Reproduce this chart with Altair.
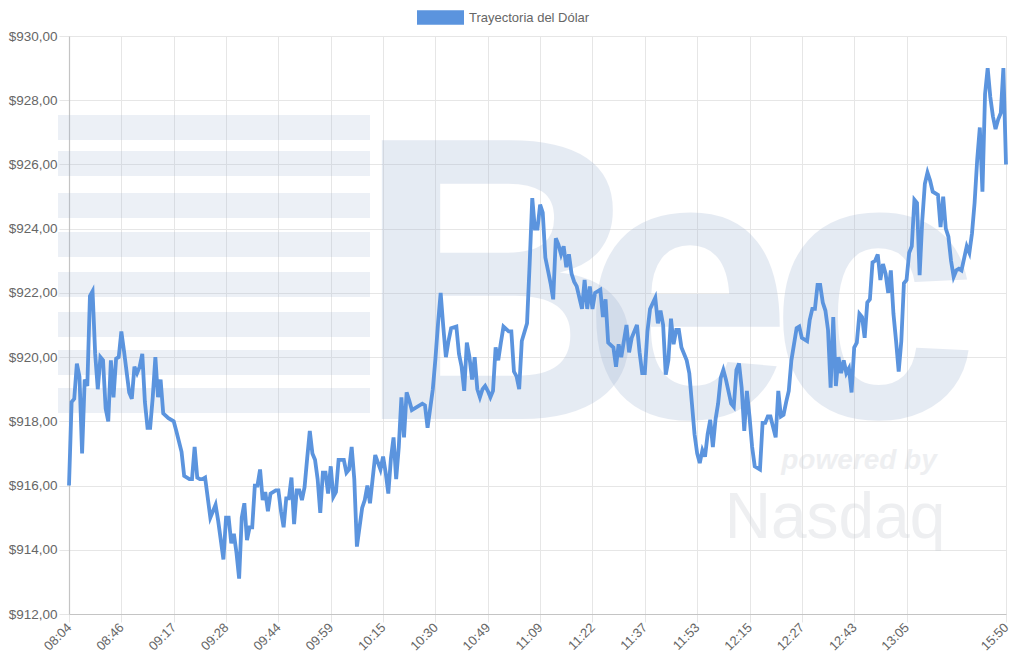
import altair as alt
import pandas as pd

# ---- data ----
series_name = "Trayectoria del Dólar"

idx = [0, 1, 2, 3, 4, 5, 6, 7, 8, 9, 10, 11, 12, 13, 14, 15, 16, 17, 18, 19, 20, 21, 23, 24, 25, 26, 27, 28, 29, 30,
       31, 32, 33, 34, 35, 36, 38, 40, 41, 43, 44, 46, 47, 48, 49, 50, 51, 52, 54, 55, 56, 57, 59, 60, 61, 62, 63, 64,
       65, 66, 67, 68, 69, 70, 71, 72, 73, 74, 75, 76, 77, 79, 80, 81, 82, 83, 84, 85, 86, 87, 88, 89, 90, 91, 92, 93,
       94, 95, 96, 97, 98, 99, 100, 101, 102, 103, 105, 106, 107, 108, 109, 110, 112, 113, 114, 115, 116, 117, 119,
       120, 121, 122, 123, 124, 125, 126, 127, 128, 129, 130, 131, 133, 135, 136, 137, 139, 140, 141, 142, 143, 144,
       145, 146, 148, 149, 150, 151, 152, 153, 154, 155, 156, 157, 158, 159, 160, 161, 162, 163, 164, 165, 166, 168,
       169, 170, 171, 172, 173, 175, 176, 177, 178, 179, 180, 181, 182, 183, 184, 185, 186, 187, 188, 189, 190, 191,
       192, 193, 194, 196, 197, 198, 199, 200, 201, 203, 204, 205, 206, 208, 209, 210, 211, 213, 214, 215, 217, 218,
       219, 220, 221, 222, 224, 225, 226, 227, 228, 229, 230, 231, 232, 233, 234, 236, 237, 238, 239, 240, 241, 242,
       243, 244, 245, 246, 247, 248, 249, 250, 251, 253, 254, 255, 256, 257, 258, 259, 260, 261, 262, 264, 265, 266,
       267, 268, 270, 271, 272, 273, 274, 275, 276, 278, 279, 280, 282, 283, 284, 285, 286, 287, 288, 289, 290, 291,
       292, 293, 294, 295, 296, 297, 298, 299, 300, 301, 302, 303, 304, 305, 306, 307, 308, 309, 310, 311, 312, 313,
       314, 315, 316, 317, 318, 319, 320, 321, 322, 323, 324, 325, 326, 327, 328, 329, 330, 332, 333, 334, 335, 336,
       337, 338, 339, 340, 341, 343, 344, 345, 346, 347, 348, 349, 350, 351, 352, 353, 354, 355, 356, 357, 358]

price = [916.0, 918.6, 918.7, 919.8, 919.4, 917.0, 919.3, 919.1, 921.9, 922.05, 920.1, 919.0, 920.0, 919.9, 918.4,
         918.0, 919.9, 918.75, 919.95, 920.0, 920.8, 920.2, 918.9, 918.7, 919.7, 919.5, 919.7, 920.1, 918.6, 917.8,
         917.8, 918.75, 920.0, 918.75, 919.3, 918.25, 918.1, 918.0, 917.7, 917.05, 916.3, 916.2, 916.2, 917.2, 916.25,
         916.2, 916.2, 916.25, 915.0, 915.2, 915.4, 914.9, 913.7, 915.0, 915.0, 914.2, 914.5, 913.9, 913.1, 915.0,
         915.45, 914.3, 914.7, 914.7, 916.0, 916.0, 916.5, 915.55, 915.8, 915.2, 915.75, 915.85, 915.85, 915.2, 914.7,
         915.6, 915.6, 916.25, 914.8, 915.85, 915.85, 915.55, 915.95, 916.85, 917.7, 917.0, 916.8, 916.2, 915.15,
         916.4, 916.4, 915.75, 916.6, 915.65, 915.8, 916.8, 916.8, 916.4, 916.5, 917.2, 916.2, 914.1, 915.3, 915.55,
         916.0, 915.45, 916.2, 916.95, 916.5, 916.9, 916.4, 915.75, 916.85, 917.5, 916.2, 917.2, 918.75, 917.5, 918.9,
         918.65, 918.35, 918.45, 918.55, 918.5, 917.8, 919.0, 919.95, 921.05, 922.0, 920.95, 920.0, 920.5, 920.9,
         920.95, 920.1, 919.7, 918.95, 920.45, 920.0, 919.3, 920.0, 919.0, 918.75, 919.0, 919.1, 918.95, 918.75,
         918.95, 920.3, 919.9, 920.45, 920.95, 920.8, 920.8, 919.55, 919.4, 919.0, 920.5, 921.05, 922.9, 924.95,
         924.0, 924.0, 924.75, 924.5, 923.1, 922.7, 922.3, 921.8, 923.7, 923.5, 923.2, 923.45, 922.8, 923.2, 922.6,
         922.35, 922.2, 921.5, 922.4, 921.5, 922.2, 921.5, 922.0, 922.1, 921.25, 921.8, 920.45, 920.3, 919.7, 920.4,
         920.0, 921.0, 920.15, 920.6, 921.0, 920.15, 919.5, 919.5, 920.8, 921.5, 921.85, 921.05, 921.45, 921.0,
         919.45, 919.9, 921.2, 920.4, 920.85, 920.85, 920.3, 919.9, 919.5, 918.55, 917.6, 917.0, 916.7, 917.1, 916.9,
         917.6, 918.05, 917.2, 918.05, 918.55, 919.35, 919.6, 919.3, 918.55, 918.45, 919.6, 919.8, 919.05, 917.7,
         918.95, 918.15, 917.2, 916.6, 916.5, 917.95, 917.95, 918.15, 918.15, 917.5, 918.95, 918.15, 918.2, 918.6,
         918.95, 919.9, 920.9, 920.95, 920.6, 920.5, 921.15, 921.5, 921.5, 922.25, 922.25, 921.7, 921.45, 920.85,
         919.05, 921.25, 919.1, 920.0, 919.5, 919.9, 919.5, 919.65, 918.9, 920.3, 920.45, 921.35, 921.25, 920.6,
         921.7, 921.8, 922.95, 923.0, 923.2, 922.4, 922.9, 922.6, 922.0, 922.7, 921.35, 920.5, 919.55, 920.5, 922.3,
         922.4, 923.25, 923.45, 924.9, 924.8, 922.55, 924.25, 925.4, 925.75, 925.5, 925.15, 925.05, 924.05, 925.0,
         924.0, 923.75, 923.0, 922.5, 922.7, 922.75, 922.7, 923.45, 923.25, 923.85, 924.8, 926.15, 927.15, 925.15,
         928.2, 929.0, 928.1, 927.5, 927.1, 927.4, 927.6, 929.0, 926.0]

tick_index = [0, 20, 40, 60, 80, 100, 120, 140, 160, 180, 200, 220, 240, 260, 280, 300, 320, 358]
tick_labels = ["08:04", "08:46", "09:17", "09:28", "09:44", "09:59", "10:15", "10:30", "10:49", "11:09",
               "11:22", "11:37", "11:53", "12:15", "12:27", "12:43", "13:05", "15:50"]
y_ticks = [912, 914, 916, 918, 920, 922, 924, 926, 928, 930]

df = pd.DataFrame({"idx": idx, "price": price, "serie": series_name})

LINE = "#5b94de"
GRID = "#e6e6e6"
TXT = "#666666"
FONT = "Liberation Sans"
WM = "#9fb3d2"

label_expr = "[" + ",".join("'%s'" % t for t in tick_labels) + "][indexof([" + \
    ",".join(str(v) for v in tick_index) + "], datum.value)]"

line = alt.Chart(df).mark_line(strokeWidth=3.8, strokeJoin="miter").encode(
    x=alt.X("idx:Q", title=None,
            scale=alt.Scale(domain=[0, 358], nice=False, zero=False),
            axis=alt.Axis(values=tick_index, labelExpr=label_expr, labelAngle=-45,
                          labelAlign="right", labelBaseline="middle", labelPadding=3,
                          tickSize=8, labelFlush=False, labelOverlap=False,
                          labelFontSize=13, labelColor=TXT, labelFont=FONT)),
    y=alt.Y("price:Q", title=None,
            scale=alt.Scale(domain=[912, 930], nice=False, zero=False),
            axis=alt.Axis(values=y_ticks,
                          labelExpr="'$' + replace(format(datum.value, '.2f'), '.', ',')",
                          tickSize=10, labelPadding=2,
                          labelFontSize=13.5, labelColor=TXT, labelFont=FONT)),
    color=alt.Color("serie:N", scale=alt.Scale(range=[LINE]),
                    legend=alt.Legend(title=None, orient="none", legendX=348, legendY=-42,
                                      direction="horizontal", padding=0,
                                      symbolType="M-1,-0.31H1V0.31H-1Z", symbolSize=2209,
                                      symbolFillColor=LINE, symbolStrokeColor=LINE,
                                      symbolStrokeWidth=0,
                                      labelFontSize=13, labelColor=TXT, labelFont=FONT,
                                      labelOffset=5)),
)


# ---- faint background watermark (decoration, not data) ----
def wm(text, x, y, size, color, weight="bold", style="normal", opacity=1.0):
    return alt.Chart(pd.DataFrame({"t": [text]})).mark_text(
        font=FONT, fontSize=size, fontWeight=weight, fontStyle=style,
        color=color, opacity=opacity, align="center", baseline="alphabetic"
    ).encode(x=alt.value(x), y=alt.value(y), text="t:N")


def band(y0):
    return alt.Chart(pd.DataFrame({"b": [0]})).mark_rect(
        color=WM, opacity=0.2
    ).encode(x=alt.value(-11), x2=alt.value(301), y=alt.value(y0), y2=alt.value(y0 + 25))


watermark = [band(v) for v in (79, 115, 157, 196, 236, 276, 314, 352)] + [
    wm("B", 432, 383, 405, WM, opacity=0.26),
    wm("e", 618, 381, 380, WM, opacity=0.26),
    wm("c", 805, 381, 380, WM, opacity=0.26),
    wm("powered by", 790, 433, 28, "#c8ccd4", style="italic", opacity=0.3),
    wm("Nasdaq", 766, 502, 64, "#c8ccd4", weight="normal", opacity=0.3),
]

chart = alt.layer(*watermark, line).properties(
    width=937, height=578,
    autosize=alt.AutoSizeParams(type="none"),
    padding={"left": 61, "top": 28, "right": 10, "bottom": 40},
    background="white",
).configure_view(stroke=None).configure_axis(
    gridColor=GRID, tickColor=GRID, domainColor="#c4c4c4", domainWidth=1.2,
    gridWidth=1,
)

chart.save("out.html", embed_options={"renderer": "svg", "actions": False})
